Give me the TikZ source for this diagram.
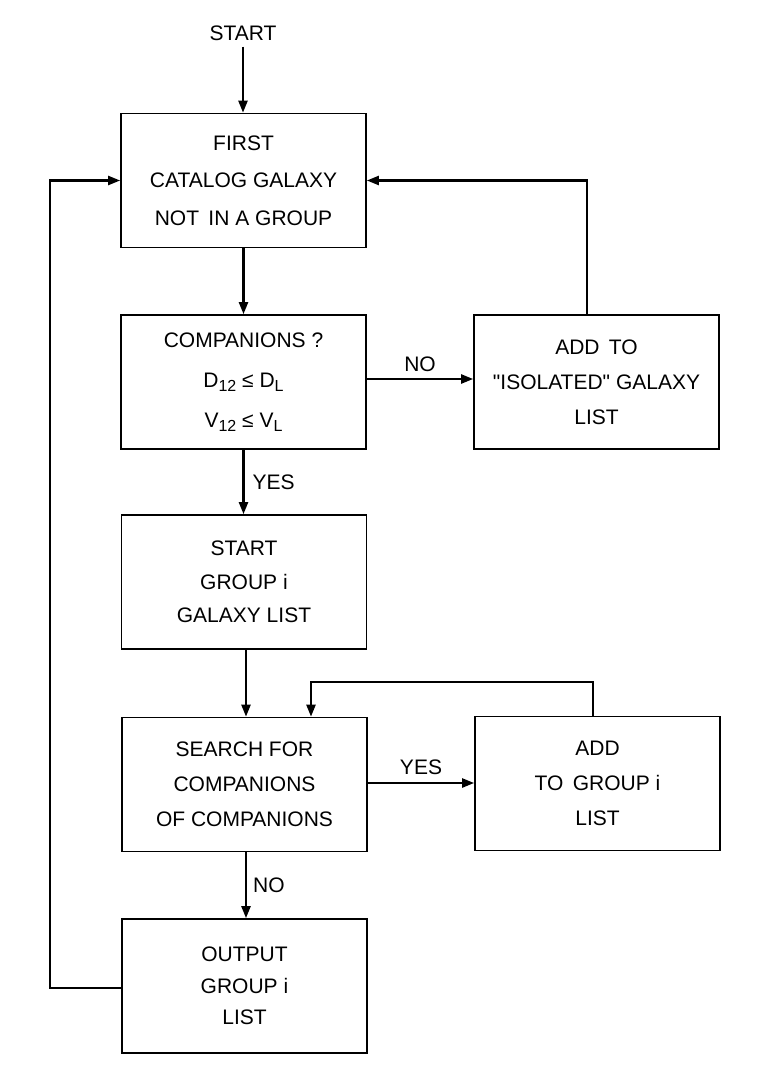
\documentclass[tikz,border=0pt]{standalone}
\usepackage{fontspec}
\setmainfont{Liberation Sans}[Ligatures=TeXOff]
\usetikzlibrary{arrows.meta,calc}
\newcommand\lowsub[1]{\raisebox{-4pt}{\fontsize{16}{16}\selectfont #1}}
\begin{document}
\begin{tikzpicture}[x=1pt,y=-1pt,
  flowbox/.style={draw,line width=1.7pt,minimum width=245pt,minimum height=134pt,
    inner sep=0pt,align=center,font=\fontsize{21}{35}\selectfont},
  lbl/.style={inner sep=0pt,font=\fontsize{21}{25}\selectfont},
  conn/.style={line width=2.3pt,-{Triangle[length=12pt,width=9pt]}}]
\useasboundingbox (0,0) rectangle (762,1084);

\node[lbl] (start) at (243,33) {START};
\node[flowbox,font=\fontsize{21}{37.5}\selectfont] (b1) at (243.5,180.5) {FIRST\\CATALOG GALAXY\\NOT\, IN A GROUP};
\node[flowbox,font=\fontsize{21}{40}\selectfont] (b2) at (243.5,382) {COMPANIONS ?\\D\lowsub{12} ≤ D\lowsub{L}\\V\lowsub{12} ≤ V\lowsub{L}};
\node[flowbox] (b3) at (596.5,382) {ADD\, TO\\"ISOLATED" GALAXY\\LIST};
\node[flowbox,font=\fontsize{21}{33.5}\selectfont] (b4) at (244,582) {START\\GROUP i\\GALAXY LIST};
\node[flowbox] (b5) at (244.5,784.5) {SEARCH FOR\\COMPANIONS\\OF COMPANIONS};
\node[flowbox] (b6) at (597.5,783.5) {ADD\\TO\, GROUP i\\LIST};
\node[flowbox,font=\fontsize{21}{31.5}\selectfont] (b7) at (244.5,986) {OUTPUT\\GROUP i\\LIST};

\draw[conn] ([yshift=-6pt]start.south) -- (start.south |- b1.north);
\draw[conn] (b1.south) -- (b1.south |- b2.north);
\draw[conn] ([yshift=3pt]b2.east) -- node[lbl,above=6.5pt] (no1) {NO} ([yshift=3pt]b2.east -| b3.west);
\draw[conn] (b2.south) -- node[lbl,right=8pt] (yes1) {YES} (b2.south |- b4.north);
\draw[conn] ([xshift=2pt]b4.south) -- ([xshift=1.5pt]b5.north);
\draw[conn] ([yshift=1.5pt]b5.east) -- node[lbl,above=7pt] (yes2) {YES} ([yshift=1.5pt]b5.east -| b6.west);
\draw[conn] ([xshift=1.5pt]b5.south) -- node[lbl,right=6pt] (no2) {NO} ([xshift=1.5pt]b5.south |- b7.north);
\draw[conn] ([xshift=-9.5pt]b3.north) |- (b1.east);
\draw[conn] ([xshift=-4.5pt]b6.north) -- ++(0,-34) -| ([xshift=66.5pt]b5.north);
\draw[conn] ([yshift=-2pt]b7.west) -- ++(-71,0) |- (b1.west);
\end{tikzpicture}
\end{document}
